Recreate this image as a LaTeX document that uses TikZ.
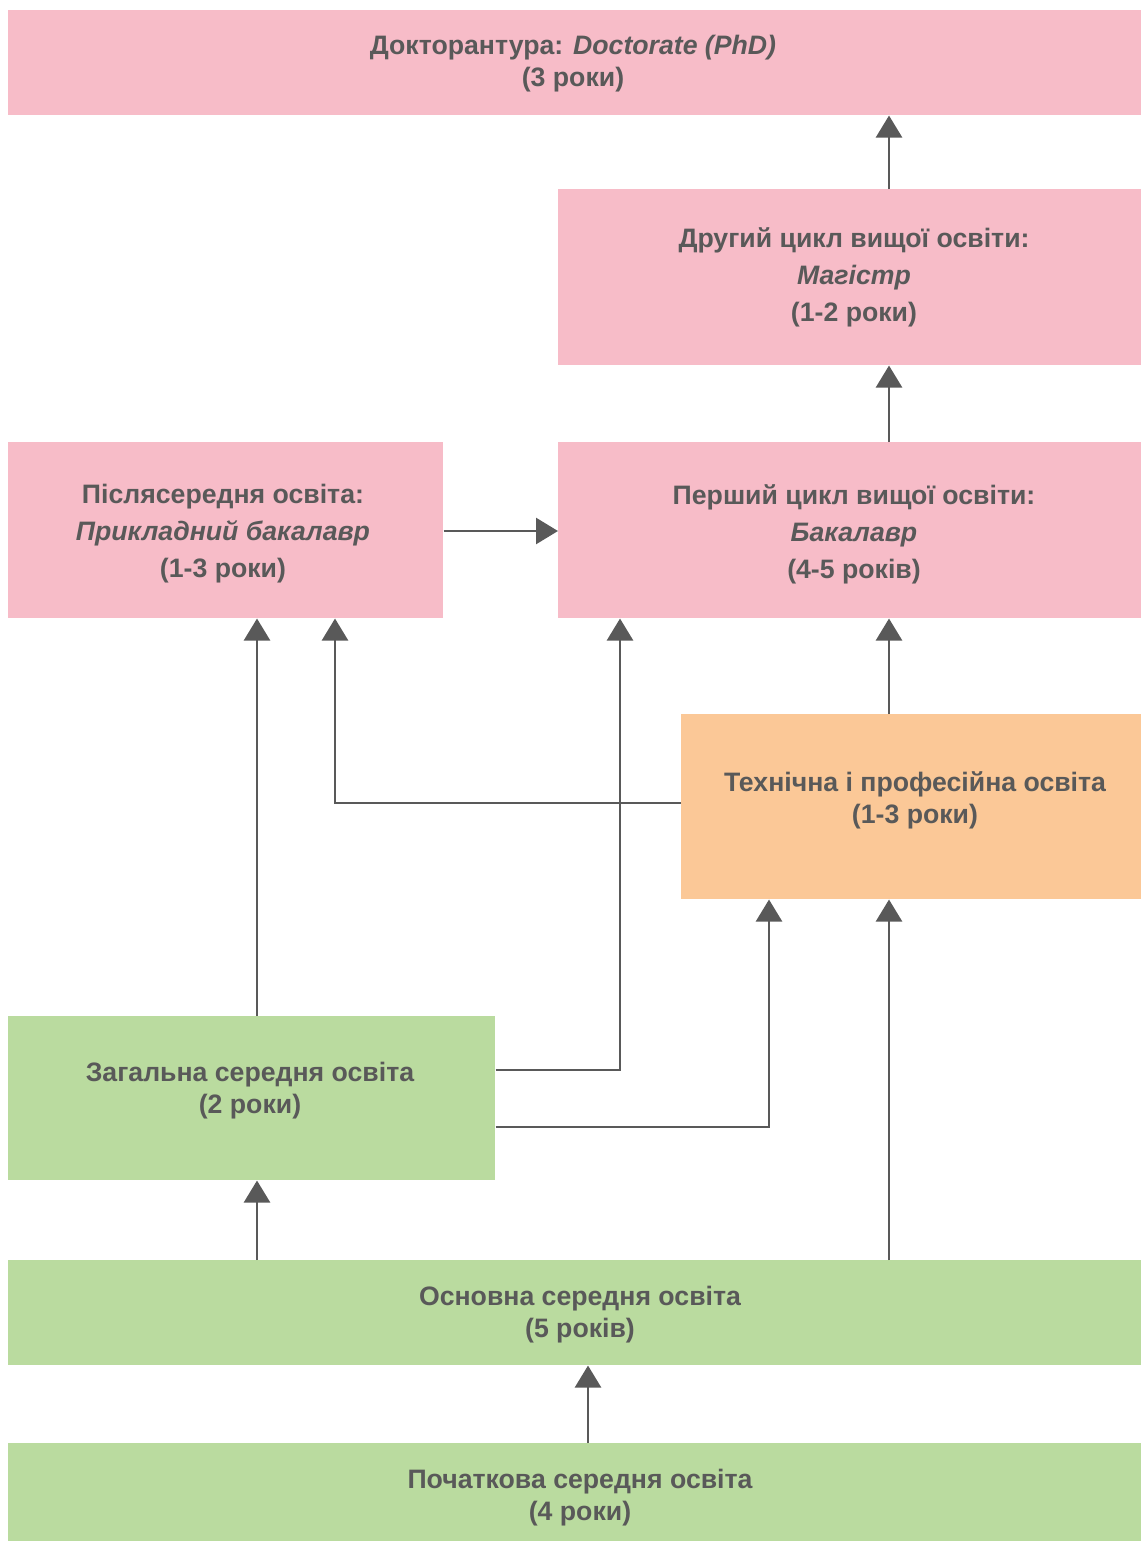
\documentclass[tikz,border=0pt]{standalone}
\usepackage{fontspec}
\setmainfont{Liberation Sans}
\usetikzlibrary{arrows.meta}
\definecolor{pinkbox}{RGB}{247,188,200}
\definecolor{orangebox}{RGB}{251,200,151}
\definecolor{greenbox}{RGB}{186,219,159}
\definecolor{inkgray}{RGB}{89,89,89}
\tikzset{
  box/.style={draw=none, inner sep=0pt, anchor=north west},
  lbl/.style={text=inkgray, align=center, inner sep=0pt, font=\fontsize{20}{24}\selectfont\bfseries},
  lblthree/.style={lbl, font=\fontsize{20}{27.75}\selectfont\bfseries},
  arr/.style={draw=inkgray, line width=2pt, -{Triangle[width=19.5pt,length=16.5pt]}},
}
\begin{document}
\begin{tikzpicture}[x=0.75pt,y=-0.75pt]
\useasboundingbox (0,0) rectangle (1141,1541);
% boxes
\node[box, fill=pinkbox, minimum width=1133*0.75pt, minimum height=105*0.75pt] (doc) at (8,10) {};
\node[box, fill=pinkbox, minimum width=583*0.75pt, minimum height=176*0.75pt] (mag) at (558,189) {};
\node[box, fill=pinkbox, minimum width=435*0.75pt, minimum height=176*0.75pt] (pryk) at (8,442) {};
\node[box, fill=pinkbox, minimum width=583*0.75pt, minimum height=176*0.75pt] (bak) at (558,442) {};
\node[box, fill=orangebox, minimum width=460*0.75pt, minimum height=185*0.75pt] (tech) at (681,714) {};
\node[box, fill=greenbox, minimum width=487*0.75pt, minimum height=164*0.75pt] (zag) at (8,1016) {};
\node[box, fill=greenbox, minimum width=1133*0.75pt, minimum height=105*0.75pt] (osn) at (8,1260) {};
\node[box, fill=greenbox, minimum width=1133*0.75pt, minimum height=98*0.75pt] (poch) at (8,1443) {};
% labels
\node[lbl] (doct) at (573,64) {Докторантура: \textit{Doctorate (PhD)}\\(3 роки)};
\node[lblthree] (magt) at (854,277) {Другий цикл вищої освіти:\\\textit{Магістр}\\(1-2 роки)};
\node[lblthree] (prykt) at (223,534) {Післясередня освіта:\\\textit{Прикладний бакалавр}\\(1-3 роки)};
\node[lblthree] (bakt) at (854,534) {Перший цикл вищої освіти:\\\textit{Бакалавр}\\(4-5 років)};
\node[lbl] (techt) at (915,800) {Технічна і професійна освіта\\(1-3 роки)};
\node[lbl] (zagt) at (250,1091) {Загальна середня освіта\\(2 роки)};
\node[lbl] (osnt) at (580,1315) {Основна середня освіта\\(5 років)};
\node[lbl] (pocht) at (580,1498) {Початкова середня освіта\\(4 роки)};
% guide coordinates
\coordinate (xa) at (889,0);
\coordinate (xb) at (335,0);
\coordinate (xc) at (257,0);
\coordinate (xd) at (620,0);
\coordinate (xe) at (769,0);
\coordinate (xf) at (588,0);
\coordinate (ya) at (0,531);
\coordinate (yb) at (0,803);
\coordinate (yc) at (0,1070);
\coordinate (yd) at (0,1127);
% connectors
\draw[arr] (mag.north -| xa) -- (doc.south -| xa);
\draw[arr] (bak.north -| xa) -- (mag.south -| xa);
\draw[arr] (pryk.east |- ya) -- (bak.west |- ya);
\draw[arr] (tech.north -| xa) -- (bak.south -| xa);
\draw[arr] (tech.west |- yb) -| (pryk.south -| xb);
\draw[arr] (zag.north -| xc) -- (pryk.south -| xc);
\draw[arr] (zag.east |- yc) -| (bak.south -| xd);
\draw[arr] (zag.east |- yd) -| (tech.south -| xe);
\draw[arr] (osn.north -| xa) -- (tech.south -| xa);
\draw[arr] (osn.north -| xc) -- (zag.south -| xc);
\draw[arr] (poch.north -| xf) -- (osn.south -| xf);
\end{tikzpicture}
\end{document}
